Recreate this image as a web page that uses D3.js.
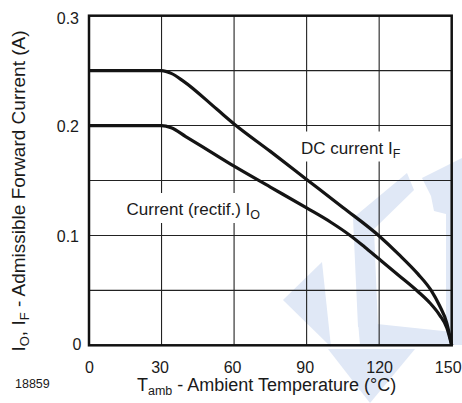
<!DOCTYPE html>
<html>
<head>
<meta charset="utf-8">
<script src="https://cdn.jsdelivr.net/npm/d3@7/dist/d3.min.js"></script>
<style>
  html, body { margin: 0; padding: 0; background: #fff; }
  svg { display: block; }
  text { font-family: "Liberation Sans", Arial, Helvetica, sans-serif; fill: #1a1a1a; }
</style>
</head>
<body>
<svg id="chart" width="462" height="403"></svg>
<script>
// ---- data ----
const tempDC = [0, 30, 34, 39, 52.8, 60, 75, 90, 105, 120, 128, 136, 141.5, 145, 148, 150];
const currDC = [0.25, 0.25, 0.2475, 0.2405, 0.215, 0.2015, 0.1765, 0.151, 0.1255, 0.0995, 0.083, 0.065, 0.05, 0.036, 0.02, 0];
const tempIO = [0, 30, 34, 40, 50, 60, 75, 90, 100, 108, 114, 120, 128, 136, 141, 145, 148, 150];
const currIO = [0.2, 0.2, 0.198, 0.19, 0.1765, 0.163, 0.144, 0.125, 0.112, 0.1, 0.0895, 0.0785, 0.0638, 0.049, 0.0385, 0.0275, 0.0158, 0];
const xTicks = [0, 30, 60, 90, 120, 150];
const yTicks = [0, 0.1, 0.2, 0.3];
const yTickLabels = ["0", "0.1", "0.2", "0.3"];
const xGrid = [30, 60, 90, 120];
const yGrid = [0.05, 0.1, 0.15, 0.2, 0.25];

// ---- layout ----
const W = 462, H = 403;
const M = { left: 89, top: 15.7, right: 10.3, bottom: 57.7 };
const svg = d3.select("#chart");
const x = d3.scaleLinear().domain([0, 150]).range([M.left, W - M.right]);
const y = d3.scaleLinear().domain([0, 0.3]).range([H - M.bottom, M.top]);

// ---- decorative faint logo watermark ----
const wm = svg.append("g").attr("fill", "#e0e8f6");
const logoShapes = [
  [[283,300],[322,262],[331,347]],
  [[328,349],[415,349],[370,403]],
  [[353,218],[407,173],[414,190],[374,229],[378,327],[358,327]],
  [[422,178],[462,158],[462,340],[446,338],[446,214],[434,211],[431,196]],
  [[358,322],[462,333],[462,345],[360,345]]
];
logoShapes.forEach(p => wm.append("polygon").attr("points", p.map(d => d.join(",")).join(" ")));

// ---- grid ----
const grid = svg.append("g").attr("stroke", "#222").attr("stroke-width", 1.1);
grid.selectAll(".hg").data(yGrid).join("line")
  .attr("x1", x(0)).attr("x2", x(150))
  .attr("y1", d => y(d)).attr("y2", d => y(d));
grid.selectAll(".vg").data(xGrid).join("line")
  .attr("y1", y(0)).attr("y2", y(0.3))
  .attr("x1", d => x(d)).attr("x2", d => x(d));

// ---- in-plot labels with white background (gaps in grid) ----
function label(g, tx, ty, main, sub) {
  const t = g.append("text").attr("x", tx).attr("y", ty).attr("font-size", 17);
  t.append("tspan").text(main);
  t.append("tspan").attr("font-size", 12.5).attr("dy", 4).text(sub);
  return t;
}
const labG = svg.append("g");
const bgG = labG.append("g");
const l1 = label(labG, 301, 153.5, "DC current I", "F");
const l2 = label(labG, 126.5, 215, "Current (rectif.) I", "O");
[l1, l2].forEach(t => {
  const b = t.node().getBBox();
  bgG.append("rect").attr("x", b.x - 2).attr("y", b.y - 7)
    .attr("width", b.width + 4).attr("height", b.height + 8).attr("fill", "#fff");
});

// ---- curves ----
const line = d3.line().x(d => x(d[0])).y(d => y(d[1])).curve(d3.curveMonotoneX);
svg.append("path").datum(d3.zip(tempDC, currDC)).attr("d", line)
  .attr("fill", "none").attr("stroke", "#141414").attr("stroke-width", 3.2).attr("stroke-linejoin", "round");
svg.append("path").datum(d3.zip(tempIO, currIO)).attr("d", line)
  .attr("fill", "none").attr("stroke", "#141414").attr("stroke-width", 3.2).attr("stroke-linejoin", "round");

// ---- frame ----
svg.append("rect").attr("x", x(0)).attr("y", y(0.3))
  .attr("width", x(150) - x(0)).attr("height", y(0) - y(0.3))
  .attr("fill", "none").attr("stroke", "#111").attr("stroke-width", 2.5);

// ---- axes ----
const xAxis = d3.axisBottom(x).tickValues(xTicks).tickSize(0).tickPadding(0).tickFormat(d3.format("d"));
const gx = svg.append("g").attr("transform", `translate(0,${y(0)})`).call(xAxis);
gx.select(".domain").remove();
gx.selectAll("text").attr("font-size", 16).attr("dy", null).attr("y", 27.5)
  .attr("fill", "#1a1a1a")
  .attr("dx", d => d === 150 ? -4 : (d === 0 || d === 120 ? 0 : -2));

const yAxis = d3.axisLeft(y).tickValues(yTicks).tickSize(0).tickPadding(0)
  .tickFormat((d, i) => yTickLabels[i]);
const gy = svg.append("g").attr("transform", `translate(${x(0)},0)`).call(yAxis);
gy.select(".domain").remove();
gy.selectAll("text").attr("font-size", 16).attr("x", -10).attr("dy", "0.36em").attr("fill", "#1a1a1a");
gy.selectAll(".tick").filter(d => d === 0.3).select("text").attr("dy", "0.5em");
gy.selectAll(".tick").filter(d => d === 0).select("text").attr("x", -7.5).attr("dy", "0.25em");

// ---- titles ----
const xt = svg.append("text").attr("x", 137).attr("y", 391).attr("font-size", 18);
xt.append("tspan").text("T");
xt.append("tspan").attr("font-size", 12.5).attr("dy", 4).text("amb");
xt.append("tspan").attr("dy", -4).text(" - Ambient Temperature (°C)");

const yt = svg.append("text").attr("transform", "translate(25,191) rotate(-90)")
  .attr("text-anchor", "middle").attr("font-size", 19);
yt.append("tspan").text("I");
yt.append("tspan").attr("font-size", 13).attr("dy", 4).text("O");
yt.append("tspan").attr("dy", -4).text(", I");
yt.append("tspan").attr("font-size", 13).attr("dy", 4).text("F");
yt.append("tspan").attr("dy", -4).text(" - Admissible Forward Current (A)");

svg.append("text").attr("x", 15).attr("y", 388).attr("font-size", 12.5).text("18859");
</script>
</body>
</html>
